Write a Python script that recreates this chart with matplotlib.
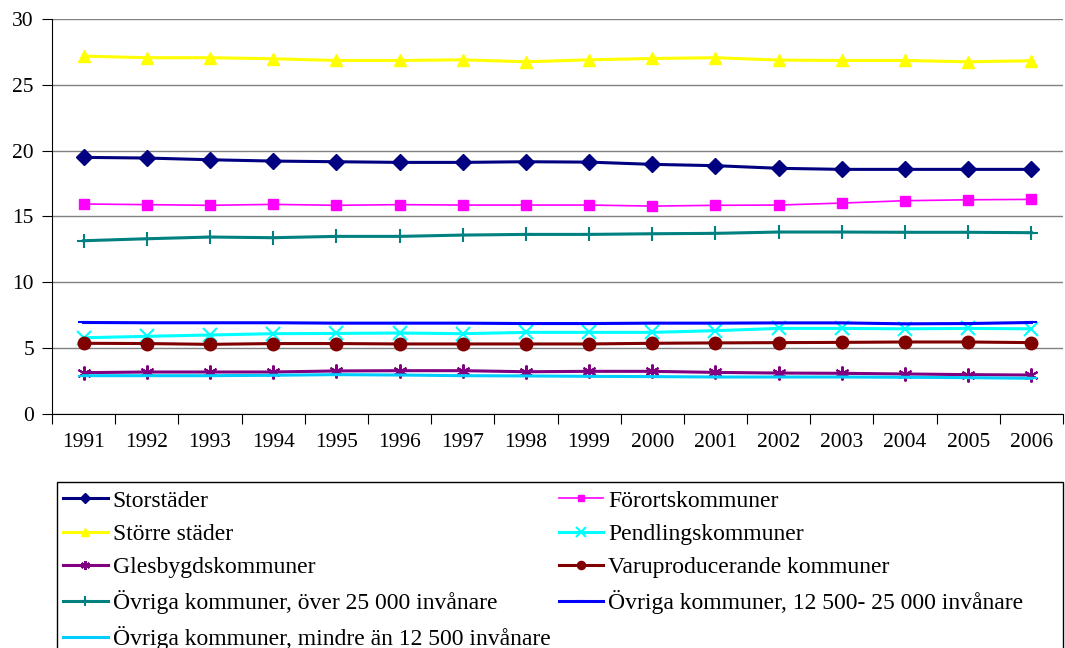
"""Andel per kommungrupp 1991-2006."""
import matplotlib
matplotlib.use("Agg")
import matplotlib.pyplot as plt
from matplotlib.patches import Rectangle

years = [str(y) for y in range(1991, 2007)]

storstader = [19.49, 19.44, 19.31, 19.21, 19.16, 19.11, 19.11, 19.16, 19.13, 18.96, 18.86, 18.66, 18.58, 18.58, 18.58, 18.58]
forortskommuner = [15.95, 15.90, 15.85, 15.92, 15.85, 15.90, 15.87, 15.87, 15.87, 15.79, 15.85, 15.87, 16.02, 16.20, 16.27, 16.30]
storre_stader = [27.18, 27.06, 27.06, 26.98, 26.85, 26.85, 26.90, 26.75, 26.90, 27.00, 27.06, 26.88, 26.85, 26.85, 26.75, 26.83]
pendlingskommuner = [5.79, 5.90, 6.00, 6.10, 6.12, 6.15, 6.10, 6.20, 6.20, 6.20, 6.33, 6.50, 6.50, 6.47, 6.50, 6.47]
glesbygdskommuner = [3.14, 3.19, 3.19, 3.19, 3.27, 3.29, 3.29, 3.21, 3.24, 3.24, 3.16, 3.11, 3.09, 3.04, 2.99, 2.96]
varuproducerande = [5.37, 5.35, 5.29, 5.35, 5.35, 5.32, 5.32, 5.32, 5.32, 5.37, 5.40, 5.42, 5.44, 5.47, 5.47, 5.42]
ovriga_over_25 = [13.16, 13.31, 13.44, 13.39, 13.49, 13.49, 13.59, 13.64, 13.64, 13.69, 13.72, 13.82, 13.82, 13.80, 13.80, 13.77]
ovriga_12_25 = [6.95, 6.93, 6.93, 6.93, 6.90, 6.90, 6.90, 6.87, 6.87, 6.90, 6.90, 6.92, 6.92, 6.85, 6.87, 6.95]
ovriga_under_12 = [2.91, 2.91, 2.91, 2.94, 2.99, 2.96, 2.91, 2.89, 2.86, 2.84, 2.81, 2.81, 2.81, 2.79, 2.76, 2.71]

series = [
    ("Storstäder", storstader, "#000080", "D", 8, 2.2),
    ("Förortskommuner", forortskommuner, "#FF00FF", "s", 7, 1.2),
    ("Större städer", storre_stader, "#FFFF00", "^", 9, 2.2),
    ("Pendlingskommuner", pendlingskommuner, "#00FFFF", "x", 10, 2.2),
    ("Glesbygdskommuner", glesbygdskommuner, "#800080", (6, 2, 0), 10, 2.2),
    ("Varuproducerande kommuner", varuproducerande, "#800000", "o", 9, 2.2),
    ("Övriga kommuner, över 25 000 invånare", ovriga_over_25, "#008080", "+", 10, 2.2),
    ("Övriga kommuner, 12 500- 25 000 invånare", ovriga_12_25, "#0000FF", "_", 8, 2.2),
    ("Övriga kommuner, mindre än 12 500 invånare", ovriga_under_12, "#00CCFF", "_", 8, 2.2),
]

plt.rcParams["font.family"] = ["Liberation Serif", "DejaVu Serif"]

fig = plt.figure(figsize=(10.65, 6.48), dpi=100)
ax = fig.add_axes([52 / 1065, 1 - 414 / 648, 1011 / 1065, 395 / 648])

x = list(range(len(years)))
handles = []
for label, vals, color, marker, ms, lw in series:
    thin = marker in ("x", "+", "_") or isinstance(marker, tuple)
    (h,) = ax.plot(x, vals, color=color, marker=marker, markersize=ms, linewidth=lw,
                   markeredgewidth=1.5 if thin else 1,
                   label=label, clip_on=False, zorder=3)
    handles.append(h)

ax.set_xlim(-0.5, len(years) - 0.5)
ax.set_ylim(0, 30)
ax.set_yticks(range(0, 31, 5))
ax.yaxis.grid(True, color="#808080", linewidth=1)
ax.set_axisbelow(True)
ax.set_xticks([i - 0.5 for i in range(len(years) + 1)])
ax.set_xticklabels([])
ax.set_xticks(x, minor=True)
ax.set_xticklabels(years, minor=True)
ax.tick_params(axis="x", which="minor", length=0, pad=14, labelsize=15.5)
ax.tick_params(axis="x", which="major", length=7, direction="out", color="black")
ax.tick_params(axis="y", length=7, direction="out", labelsize=15.5, pad=6)
for side in ("top", "right"):
    ax.spines[side].set_visible(False)

# legend: row-major order in two columns, frame drawn separately
order = [0, 2, 4, 6, 8, 1, 3, 5, 7]
fig.legend([handles[i] for i in order], [series[i][0] for i in order],
           loc="upper left", bbox_to_anchor=(63 / 1065, 1 - 490 / 648),
           ncol=2, frameon=False, fontsize=17, handlelength=1.9, handletextpad=0.21,
           labelspacing=0.5, columnspacing=0.34, borderaxespad=0, borderpad=0,
           markerscale=0.65)
fig.patches.append(Rectangle((57 / 1065, -0.02), 1006 / 1065, 1 - 482 / 648 + 0.02,
                             transform=fig.transFigure, fill=False, edgecolor="black",
                             linewidth=1))

fig.savefig("out.png", dpi=100)
